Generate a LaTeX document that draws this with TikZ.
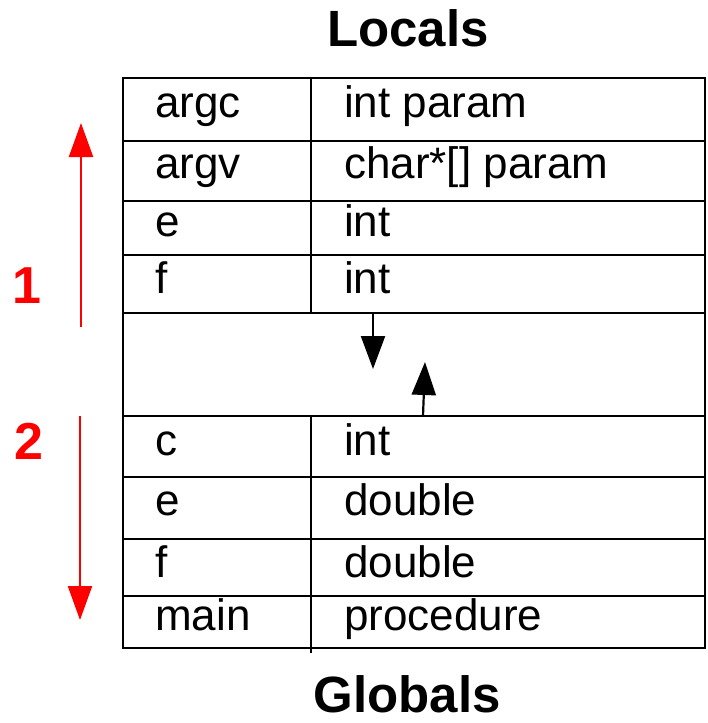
\documentclass[tikz,border=0pt]{standalone}
\usepackage{fontspec}
\setmainfont{Liberation Sans}
\usetikzlibrary{arrows.meta}
\begin{document}
\begin{tikzpicture}[x=1pt,y=-1pt,
  grid/.style={line width=2.2pt,line cap=rect},
  cell/.style={anchor=base west,inner sep=0pt,font=\fontsize{44}{50}\selectfont},
  title/.style={anchor=base,inner sep=0pt,text depth=0pt,font=\bfseries\fontsize{#1}{#1}\selectfont},
  phase/.style={anchor=base,inner sep=0pt,text=red,font=\bfseries\fontsize{52}{52}\selectfont},
  redarrow/.style={red,line width=2.2pt,-{Triangle[width=24pt,length=34pt]}},
  blackarrow/.style={black,line width=2.2pt,-{Triangle[width=24pt,length=33pt]}}]
\useasboundingbox (0,0) rectangle (707,723);

% titles
\node[title=51] (locals) at (408,46) {Locals};
\node[title=51] (globals) at (407,712) {Globals};

% table frame and row rules
\draw[grid] (123,78) rectangle (705,648);
\foreach \y in {141,201,255,313,416,477,539,596}
  \draw[grid] (123,\y) -- (705,\y);
\draw[grid] (311,78) -- (311,313);
\draw[grid] (311,416) -- (311,652);

% upper frame entries
\node[cell] (n1) at (155,117) {argc};  \node[cell] (t1) at (344,117) {int param};
\node[cell] (n2) at (155,178) {argv};  \node[cell] (t2) at (344,178) {char*[] param};
\node[cell] (n3) at (155,236) {e};     \node[cell] (t3) at (344,236) {int};
\node[cell] (n4) at (155,293) {f};     \node[cell] (t4) at (344,293) {int};

% lower frame entries
\node[cell] (n5) at (155,455) {c};     \node[cell] (t5) at (344,455) {int};
\node[cell] (n6) at (155,515) {e};     \node[cell] (t6) at (344,515) {double};
\node[cell] (n7) at (155,577) {f};     \node[cell] (t7) at (344,577) {double};
\node[cell] (n8) at (155,630) {main};  \node[cell] (t8) at (344,630) {procedure};

% stack growth arrows in the free region
\coordinate (downstart) at (373,313);
\coordinate (downend) at (373,369);
\coordinate (upstart) at (423,416);
\coordinate (upend) at (425,362);
\draw[blackarrow] (downstart) -- (downend);
\draw[blackarrow] (upstart) -- (upend);

% phase markers
\node[phase] (one) at (27,303) {1};
\node[phase] (two) at (29,459) {2};
\coordinate (r1a) at (81,327);
\coordinate (r1b) at (81,123);
\coordinate (r2a) at (80,416);
\coordinate (r2b) at (80,620);
\draw[redarrow] (r1a) -- (r1b);
\draw[redarrow] (r2a) -- (r2b);
\end{tikzpicture}
\end{document}
